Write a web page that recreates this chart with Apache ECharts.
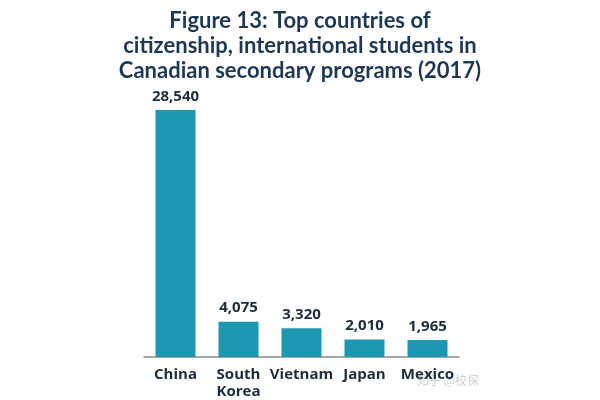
<!DOCTYPE html>
<html><head><meta charset="utf-8">
<script src="https://cdn.jsdelivr.net/npm/echarts@6/dist/echarts.min.js"></script>
<style>html,body{margin:0;padding:0;background:#fff}#c{width:600px;height:400px}</style>
</head><body><div id="c"></div>
<script>
var categories = ['China', 'South\nKorea', 'Vietnam', 'Japan', 'Mexico'];
var values = [28540, 4075, 3320, 2010, 1965];
var titleText = 'Figure 13: Top countries of\ncitizenship, international students in\nCanadian secondary programs (2017)';

var chart = echarts.init(document.getElementById('c'));
chart.setOption({
  backgroundColor: '#fff',
  animation: false,
  title: {
    text: titleText,
    left: 'center',
    top: 3,
    textStyle: {fontFamily: 'Lato', fontWeight: 'bold', fontSize: 22, lineHeight: 25, color: '#1e3752'}
  },
  graphic: [{
    type: 'text', left: 417, top: 374, z: -1,
    style: {text: '知乎 @校探', fill: '#cfcfcf', font: '12px "Noto Sans CJK SC"'}
  }],
  grid: {left: 144, right: 141, top: 110, bottom: 41},
  xAxis: {
    type: 'category', data: categories,
    axisLine: {lineStyle: {color: '#7f8c93', width: 1.5}},
    axisTick: {show: false},
    axisLabel: {interval: 0, fontFamily: 'Open Sans', fontWeight: 'bold', fontSize: 15, color: '#1e2c3a', margin: 9, lineHeight: 17}
  },
  yAxis: {type: 'value', min: 0, max: 28540, show: false},
  series: [{
    type: 'bar', data: values, barWidth: 40,
    itemStyle: {color: '#1e97b0'},
    label: {show: true, position: 'top', distance: 6, fontFamily: 'Open Sans', fontWeight: 'bold', fontSize: 15, color: '#1e2c3a',
      formatter: function(p){return p.value.toLocaleString('en-US');}}
  }]
});
</script></body></html>
